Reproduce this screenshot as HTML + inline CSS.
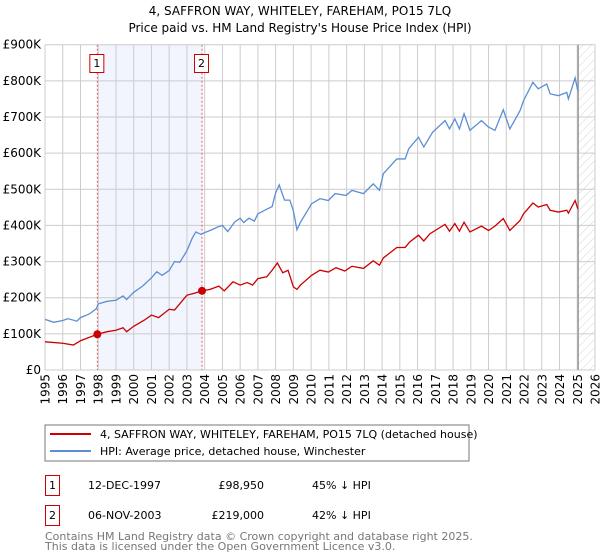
<!DOCTYPE html>
<html><head><meta charset="utf-8"><style>
body{margin:0;background:#fff;}
svg{display:block;font-family:"DejaVu Sans","Liberation Sans",sans-serif;}
</style></head><body>
<svg id="chart" width="600" height="560" xmlns="http://www.w3.org/2000/svg">
<defs><pattern id="hatch" width="6" height="6" patternUnits="userSpaceOnUse" patternTransform="rotate(45)"><line x1="0" y1="0" x2="0" y2="6" stroke="#d4d4d4" stroke-width="1"/></pattern></defs>
<text x="300" y="15" text-anchor="middle" font-size="12">4, SAFFRON WAY, WHITELEY, FAREHAM, PO15 7LQ</text>
<text x="300" y="32" text-anchor="middle" font-size="12">Price paid vs. HM Land Registry's House Price Index (HPI)</text>
<g id="grid"></g><g id="marks"></g><g id="axes"></g>
<rect x="45" y="425" width="424" height="36" fill="#fff" stroke="#777"/>
<line x1="50" y1="434" x2="91" y2="434" stroke="#cc0000" stroke-width="2"/>
<text x="100" y="438" font-size="11">4, SAFFRON WAY, WHITELEY, FAREHAM, PO15 7LQ (detached house)</text>
<line x1="50" y1="451" x2="91" y2="451" stroke="#5b8fd4" stroke-width="2"/>
<text x="100" y="455" font-size="11">HPI: Average price, detached house, Winchester</text>
<g font-size="11">
<rect x="45.5" y="475.5" width="14" height="20" fill="#fff" stroke="#cc0000"/>
<text x="52.5" y="489" text-anchor="middle">1</text>
<text x="88" y="489">12-DEC-1997</text>
<text x="264" y="489" text-anchor="end">£98,950</text>
<text x="312" y="489">45% ↓ HPI</text>
<rect x="45.5" y="505.5" width="14" height="20" fill="#fff" stroke="#cc0000"/>
<text x="52.5" y="519" text-anchor="middle">2</text>
<text x="88" y="519">06-NOV-2003</text>
<text x="264" y="519" text-anchor="end">£219,000</text>
<text x="312" y="519">42% ↓ HPI</text>
</g>
<text x="45" y="540" font-size="11" fill="#777">Contains HM Land Registry data © Crown copyright and database right 2025.</text>
<text x="45" y="550" font-size="11" fill="#777">This data is licensed under the Open Government Licence v3.0.</text>
</svg>
<script>
const yTicks=[0,100,200,300,400,500,600,700,800,900];
const yTickLabels=["£0","£100K","£200K","£300K","£400K","£500K","£600K","£700K","£800K","£900K"];
const xYears=[1995,1996,1997,1998,1999,2000,2001,2002,2003,2004,2005,2006,2007,2008,2009,2010,2011,2012,2013,2014,2015,2016,2017,2018,2019,2020,2021,2022,2023,2024,2025,2026];
const hpiDates=[1995.0,1995.5,1996.0,1996.3,1996.8,1997.0,1997.5,1997.9,1998.0,1998.5,1999.0,1999.4,1999.6,2000.0,2000.5,2001.0,2001.3,2001.6,2002.0,2002.3,2002.6,2003.0,2003.3,2003.5,2003.8,2004.0,2004.4,2004.7,2005.0,2005.3,2005.7,2006.0,2006.2,2006.5,2006.8,2007.0,2007.5,2007.8,2008.0,2008.2,2008.5,2008.8,2009.0,2009.2,2009.4,2010.03,2010.5,2010.97,2011.35,2011.97,2012.3,2012.95,2013.5,2013.85,2014.07,2014.83,2015.3,2015.5,2016.05,2016.35,2016.85,2017.55,2017.8,2018.1,2018.36,2018.62,2018.95,2019.6,2020.0,2020.36,2020.83,2021.2,2021.78,2021.97,2022.5,2022.8,2023.28,2023.47,2023.94,2024.41,2024.5,2024.88,2025.03];
const hpiValues=[140,132,137,142,135,145,155,170,183,190,193,205,195,215,232,255,272,262,275,300,298,330,365,382,375,380,388,395,400,383,410,420,408,420,412,432,445,452,490,512,470,470,440,388,409,460,474,469,488,483,497,488,515,497,543,584,584,612,644,617,658,690,667,695,667,709,663,690,672,663,720,667,718,745,796,778,791,764,759,768,750,808,773];
const priceDates=[1995.0,1996.0,1996.6,1997.0,1997.95,1998.5,1999.0,1999.4,1999.6,2000.0,2000.6,2001.0,2001.4,2002.0,2002.3,2003.0,2003.4,2003.85,2004.3,2004.8,2005.1,2005.6,2006.0,2006.4,2006.7,2007.0,2007.5,2007.8,2008.1,2008.4,2008.7,2009.0,2009.2,2009.4,2010.03,2010.5,2010.97,2011.4,2011.9,2012.3,2012.95,2013.5,2013.85,2014.07,2014.83,2015.3,2015.55,2016.05,2016.35,2016.7,2017.55,2017.8,2018.1,2018.36,2018.62,2018.95,2019.6,2020.0,2020.36,2020.83,2021.2,2021.78,2021.97,2022.5,2022.8,2023.28,2023.47,2023.94,2024.41,2024.5,2024.88,2025.03];
const priceValues=[78,74,69,81,98.95,106,110,117,106,121,138,152,145,168,166,207,212,219,223,232,219,244,235,242,235,253,258,276,296,269,276,230,223,235,262,276,271,283,274,287,281,302,290,310,339,339,354,373,357,377,403,384,405,384,409,382,398,386,398,419,386,414,432,462,451,458,442,437,442,434,469,446];
const saleDates=[1997.95,2003.85];
const salePrices=[98.95,219];
const saleLabels=["1","2"];
const X0=45,X1=595,Y0=370,Y900=44.7;
function xs(t){return X0+(t-1995)/(2026-1995)*(X1-X0);}
function ys(v){return Y0-v/900*(Y0-Y900);}
const NS="http://www.w3.org/2000/svg";
function mk(tag,attrs,parent,txt){const e=document.createElementNS(NS,tag);for(const k in attrs)e.setAttribute(k,attrs[k]);if(txt!==undefined)e.textContent=txt;parent.appendChild(e);return e;}
const grid=document.getElementById('grid'),marks=document.getElementById('marks'),axes=document.getElementById('axes');
let band=mk('rect',{x:xs(saleDates[0]),y:Y900,width:xs(saleDates[1])-xs(saleDates[0]),height:Y0-Y900,fill:'#f2f5fd'},grid);


let hat=mk('rect',{x:xs(2025.05),y:Y900,width:X1-xs(2025.05),height:Y0-Y900,fill:'url(#hatch)'},grid);


yTicks.forEach((v,i)=>{
  let l=mk('line',{x1:X0,x2:X1,y1:ys(v),y2:ys(v),stroke:'#ccc'},grid);
  
  
  let t=mk('text',{x:X0-4,y:ys(v)+4,'text-anchor':'end','font-size':12},axes,yTickLabels[i]);
  
  
});
xYears.forEach(yr=>{
  let l=mk('line',{x1:xs(yr),x2:xs(yr),y1:Y900,y2:Y0,stroke:'#ccc'},grid);
  
  
  let t=mk('text',{x:0,y:0,'text-anchor':'end','font-size':12,transform:`translate(${xs(yr)+4.5},374) rotate(-90)`},axes,String(yr));
  
  
});
let vl=mk('line',{x1:xs(2025.05),x2:xs(2025.05),y1:Y900,y2:Y0,stroke:'#888','stroke-width':1.2},grid);


saleDates.forEach((d,i)=>{
  let l=mk('line',{x1:xs(d),x2:xs(d),y1:Y900,y2:Y0,stroke:'#e06060','stroke-dasharray':'2,2'},marks);
  
  
  let r=mk('rect',{x:xs(d)-7.5,y:54.5,width:14,height:18,fill:'#fff',stroke:'#cc0000'},marks);
  
  
  let t=mk('text',{x:xs(d)-0.5,y:67,'text-anchor':'middle','font-size':11},marks,saleLabels[i]);
  
  
});
let hp=mk('polyline',{points:hpiDates.map((d,i)=>xs(d)+','+ys(hpiValues[i])).join(' '),fill:'none',stroke:'#5b8fd4','stroke-width':1.3},marks);


let pp=mk('polyline',{points:priceDates.map((d,i)=>xs(d)+','+ys(priceValues[i])).join(' '),fill:'none',stroke:'#cc0000','stroke-width':1.3},marks);


saleDates.forEach((d,i)=>{
  let c=mk('circle',{cx:xs(d),cy:ys(salePrices[i]),r:4,fill:'#cc0000'},marks);
  
  
});
</script>
</body></html>
